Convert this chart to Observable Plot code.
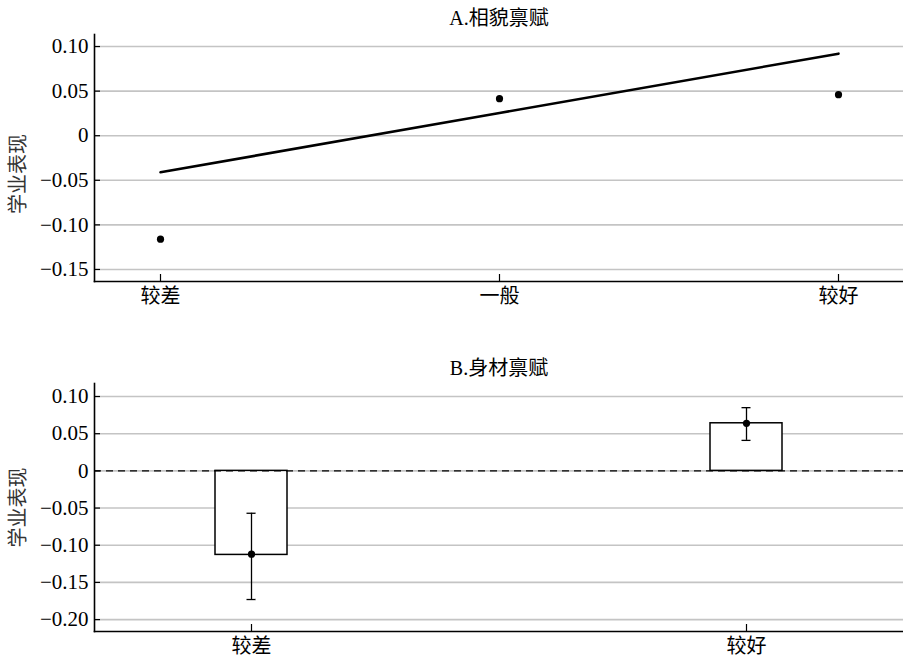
<!DOCTYPE html>
<html>
<head>
<meta charset="utf-8">
<script src="https://cdn.jsdelivr.net/npm/d3@7"></script>
<script src="https://cdn.jsdelivr.net/npm/@observablehq/plot@0.6"></script>
<style>
  body { margin: 0; background: white; }
  #chart svg { display: block; }
</style>
</head>
<body>
<div id="chart"></div>
<script>
// Panel A: 相貌禀赋
const titleA = "A.相貌禀赋";
const catsA = ["较差", "一般", "较好"];
const meansA = [-0.116, 0.0415, 0.046];
const fitA = [-0.041, 0.0255, 0.092];
const ticksA = [0.10, 0.05, 0, -0.05, -0.10, -0.15];

// Panel B: 身材禀赋
const titleB = "B.身材禀赋";
const catsB = ["较差", "较好"];
const barsB = [-0.113, 0.064];
const meansB = [-0.112, 0.064];
const lowB = [-0.173, 0.041];
const highB = [-0.057, 0.085];
const ticksB = [0.10, 0.05, 0, -0.05, -0.10, -0.15, -0.20];

const yLabel = "学业表现";

const dataA = catsA.map((c, i) => ({cat: c, mean: meansA[i], fit: fitA[i]}));
const dataB = catsB.map((c, i) => ({cat: c, bar: barsB[i], mean: meansB[i], low: lowB[i], high: highB[i]}));

const fmt = d => d === 0 ? "0" : (d < 0 ? "\u2212" : "") + Math.abs(d).toFixed(2);
const serif = "'Liberation Serif', 'Times New Roman', serif";
const font = "'Liberation Serif', 'Noto Sans CJK SC', serif";
const gridColor = "#c4c4c4";

function yTickLabels(ticks) {
  return Plot.text(ticks, {y: d => d, text: fmt, frameAnchor: "left", textAnchor: "end", lineAnchor: "middle",
    dx: -6, fontSize: 21, fontFamily: serif, fill: "black"});
}
function xTickLabels(cats) {
  return Plot.text(cats, {x: d => d, text: d => d, frameAnchor: "bottom", textAnchor: "middle", lineAnchor: "top",
    dy: 7, fontSize: 20, fill: "black"});
}

const plotA = Plot.plot({
  width: 903, height: 340,
  marginTop: 34, marginBottom: 59, marginLeft: 94, marginRight: 0,
  style: {fontFamily: font, fontSize: "20px", background: "white", color: "black"},
  x: {type: "point", domain: catsA, padding: 0.193},
  y: {domain: [-0.1635, 0.1135]},
  marks: [
    Plot.gridY(ticksA, {stroke: gridColor, strokeOpacity: 1, strokeWidth: 1.6}),
    Plot.axisY(ticksA, {tickSize: -6, tickFormat: () => "", label: null, strokeWidth: 1.2}),
    Plot.axisX({tickSize: -7, tickFormat: () => "", label: null, strokeWidth: 1.2}),
    yTickLabels(ticksA),
    xTickLabels(catsA),
    Plot.frame({anchor: "left", strokeWidth: 1.6}),
    Plot.frame({anchor: "bottom", strokeWidth: 1.6}),
    Plot.line(dataA, {x: "cat", y: "fit", stroke: "black", strokeWidth: 2.6}),
    Plot.dot(dataA, {x: "cat", y: "mean", r: 3.6, fill: "black", stroke: null}),
    Plot.text([titleA], {frameAnchor: "top", dy: -16, fontSize: 20, lineAnchor: "middle"}),
    Plot.text([yLabel], {frameAnchor: "left", textAnchor: "middle", lineAnchor: "middle", rotate: -90, dx: -76, dy: 16, fontSize: 20, fill: "#333"})
  ]
});

const plotB = Plot.plot({
  width: 903, height: 322,
  marginTop: 43, marginBottom: 31, marginLeft: 94, marginRight: 0,
  style: {fontFamily: font, fontSize: "20px", background: "white", color: "black"},
  x: {type: "band", domain: catsB, paddingInner: 0.8545, paddingOuter: 0.244},
  y: {domain: [-0.216, 0.1175]},
  marks: [
    Plot.gridY(ticksB, {stroke: gridColor, strokeOpacity: 1, strokeWidth: 1.6}),
    Plot.barY(dataB, {x: "cat", y: "bar", fill: "white", stroke: "black", strokeWidth: 1.5}),
    Plot.ruleY([0], {stroke: "black", strokeWidth: 1.4, strokeDasharray: "7,5"}),
    Plot.ruleX(dataB, {x: "cat", y1: "low", y2: "high", stroke: "black", strokeWidth: 1.3}),
    Plot.tickY(dataB, {x: "cat", y: "low", insetLeft: 31.5, insetRight: 31.5, stroke: "black", strokeWidth: 1.3}),
    Plot.tickY(dataB, {x: "cat", y: "high", insetLeft: 31.5, insetRight: 31.5, stroke: "black", strokeWidth: 1.3}),
    Plot.dot(dataB, {x: "cat", y: "mean", r: 3.6, fill: "black", stroke: null}),
    Plot.axisY(ticksB, {tickSize: -6, tickFormat: () => "", label: null, strokeWidth: 1.2}),
    Plot.axisX({tickSize: -7, tickFormat: () => "", label: null, strokeWidth: 1.2}),
    yTickLabels(ticksB),
    xTickLabels(catsB),
    Plot.frame({anchor: "left", strokeWidth: 1.6}),
    Plot.frame({anchor: "bottom", strokeWidth: 1.6}),
    Plot.text([titleB], {frameAnchor: "top", dy: -15, fontSize: 20, lineAnchor: "middle"}),
    Plot.text([yLabel], {frameAnchor: "left", textAnchor: "middle", lineAnchor: "middle", rotate: -90, dx: -76, fontSize: 20, fill: "#333"})
  ]
});

document.getElementById("chart").append(plotA, plotB);
</script>
</body>
</html>
